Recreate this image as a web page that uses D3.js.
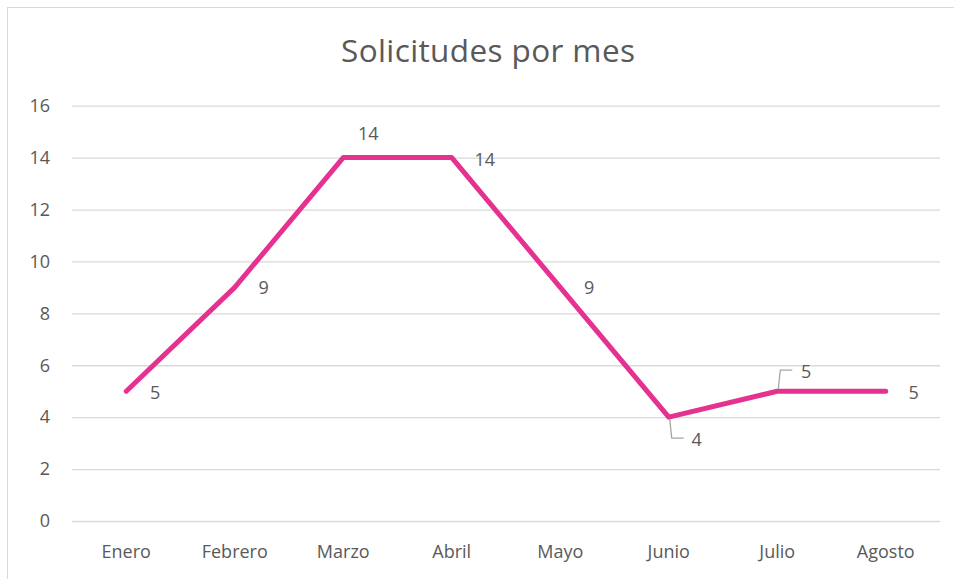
<!DOCTYPE html>
<html>
<head>
<meta charset="utf-8">
<style>
  body { margin: 0; background: #fff; }
  text { font-family: "Open Sans", "Noto Sans", sans-serif; fill: #595959; }
</style>
</head>
<body>
<svg id="chart" width="954" height="579"></svg>
<script src="https://cdn.jsdelivr.net/npm/d3@7"></script>
<script>
var months = ['Enero', 'Febrero', 'Marzo', 'Abril', 'Mayo', 'Junio', 'Julio', 'Agosto'];
var values = [5, 9, 14, 14, 9, 4, 5, 5];
var yTicks = [0, 2, 4, 6, 8, 10, 12, 14, 16];

var svg = d3.select('#chart');
var margin = { left: 72, right: 14, top: 105.7, bottom: 58 };
var width = 954, height = 579;

// chart frame
svg.append('rect')
    .attr('x', 7.5).attr('y', 7.5)
    .attr('width', 960).attr('height', 600)
    .attr('fill', 'none').attr('stroke', '#d9d9d9').attr('stroke-width', 1);

svg.append('text')
    .attr('x', 488).attr('y', 62)
    .attr('text-anchor', 'middle')
    .attr('font-size', 31.5)
    .attr('textLength', 294)
    .text('Solicitudes por mes');

var x = d3.scaleBand().domain(months).range([margin.left, width - margin.right]);
var y = d3.scaleLinear().domain([0, 16]).range([521, 105.7]);

var yAxis = svg.append('g').attr('transform', 'translate(' + margin.left + ',0)')
    .call(d3.axisLeft(y).tickValues(yTicks).tickSize(-(width - margin.right - margin.left)).tickPadding(22));
yAxis.select('.domain').remove();
yAxis.selectAll('line').attr('stroke', '#d9d9d9').attr('stroke-width', 1.3);
yAxis.selectAll('text').attr('font-size', 18).attr('fill', '#595959').attr('font-family', '"Open Sans", sans-serif');

var xAxis = svg.append('g').attr('transform', 'translate(0,521)')
    .call(d3.axisBottom(x).tickSize(0).tickPadding(24));
xAxis.select('.domain').remove();
xAxis.selectAll('text').attr('font-size', 18).attr('fill', '#595959').attr('font-family', '"Open Sans", sans-serif');

var cx = function (d, i) { return x(months[i]) + x.bandwidth() / 2; };

svg.append('path')
    .datum(values)
    .attr('fill', 'none')
    .attr('stroke', '#e5318f')
    .attr('stroke-width', 5)
    .attr('stroke-linejoin', 'round')
    .attr('stroke-linecap', 'round')
    .attr('d', d3.line().x(cx).y(function (d) { return y(d); }));

// data label offsets (dx, dy) from each point
var labelOffsets = [[29, 8], [29, 7], [25, -18], [33, 8], [29, 7], [28, 29], [29, -13], [28, 8]];

svg.selectAll('.lbl').data(values).enter().append('text')
    .attr('class', 'lbl')
    .attr('x', function (d, i) { return cx(d, i) + labelOffsets[i][0]; })
    .attr('y', function (d, i) { return y(d) + labelOffsets[i][1]; })
    .attr('text-anchor', 'middle')
    .attr('font-size', 18)
    .text(function (d) { return d; });

// leader lines for Junio and Julio
var leaders = [5, 6];
svg.selectAll('.leader').data(leaders).enter().append('path')
    .attr('fill', 'none')
    .attr('stroke', '#a6a6a6')
    .attr('stroke-width', 1.3)
    .attr('d', function (i) {
        var px = cx(values[i], i), py = y(values[i]);
        var up = labelOffsets[i][1] < 0;
        var ey = up ? py - 21 : py + 21;
        return 'M' + (px + 1) + ',' + (py + (up ? -2 : 2)) + 'L' + (px + 3) + ',' + ey + 'L' + (px + 15) + ',' + ey;
    });
</script>
</body>
</html>
